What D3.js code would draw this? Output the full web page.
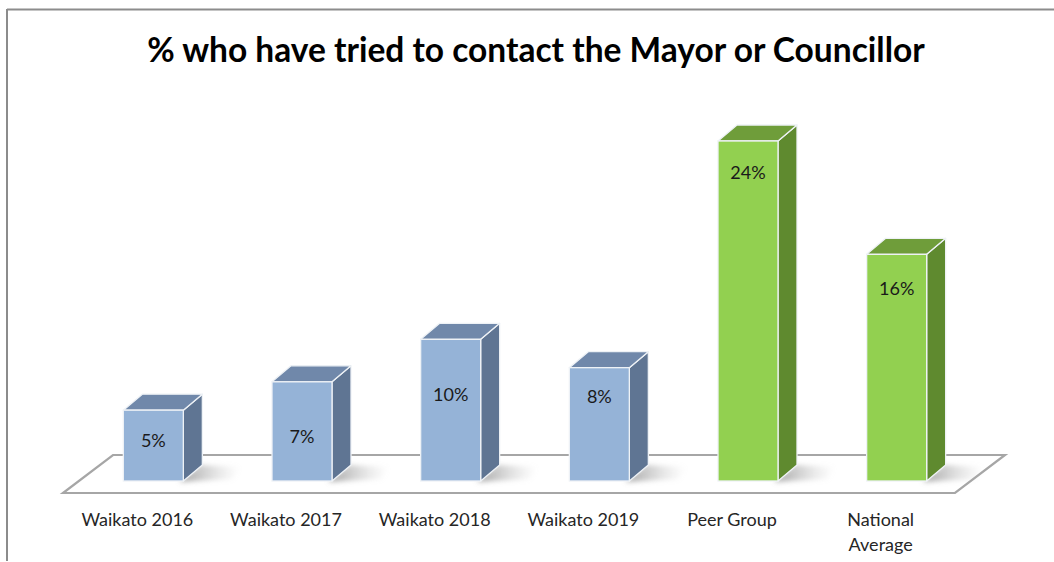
<!DOCTYPE html>
<html>
<head>
<meta charset="utf-8">
<script src="https://cdn.jsdelivr.net/npm/d3@7"></script>
<style>
  html, body { margin: 0; padding: 0; background: #fff; }
  svg { display: block; }
  text { font-family: Lato, "Open Sans", sans-serif; }
</style>
</head>
<body>
<svg id="chart" width="1054" height="562"></svg>
<script>
// Survey results: share of respondents who tried to contact the Mayor or a Councillor
const categories = ["Waikato 2016", "Waikato 2017", "Waikato 2018", "Waikato 2019", "Peer Group", "National Average"];
const values = [5, 7, 10, 8, 24, 16];
const groups = ["waikato", "waikato", "waikato", "waikato", "benchmark", "benchmark"];
const valueLabels = ["5%", "7%", "10%", "8%", "24%", "16%"];
const title = "% who have tried to contact the Mayor or Councillor";

const W = 1054, H = 562;
const svg = d3.select("#chart");

// Face colours for each group: front, side, top
const palette = {
  waikato:   { front: "#95b3d7", side: "#5f7593", top: "#7088aa" },
  benchmark: { front: "#92d050", side: "#5f8a2f", top: "#6f9d3a" }
};

// Outer frame (top and left edges)
svg.append("line").attr("x1", 7).attr("y1", 9.5).attr("x2", W).attr("y2", 9.5)
  .attr("stroke", "#8c8c8c").attr("stroke-width", 2);
svg.append("line").attr("x1", 7).attr("y1", 9).attr("x2", 7).attr("y2", 561)
  .attr("stroke", "#8c8c8c").attr("stroke-width", 2);

// Title
svg.append("text")
  .attr("x", 536).attr("y", 62)
  .attr("text-anchor", "middle")
  .attr("font-weight", "bold")
  .attr("font-size", 33.5)
  .attr("fill", "#000")
  .text(title);

// Floor plane in oblique projection
const floorFront = 493, floorLeft = 63, floorRight = 955;
const floorDepth = { dx: 50, dy: -38 };

const x = d3.scaleBand().domain(categories).range([floorLeft, floorRight]);
const barBase = 481;
const y = d3.scaleLinear().domain([0, 24]).range([barBase, 141]);

const barW = 60;
const barShift = 16;          // front face offset into the floor
const depth = { dx: 19, dy: -16 };

const floorPts = [
  [floorLeft, floorFront],
  [floorRight, floorFront],
  [floorRight + floorDepth.dx, floorFront + floorDepth.dy],
  [floorLeft + floorDepth.dx, floorFront + floorDepth.dy]
];
svg.append("polygon")
  .attr("points", floorPts.map(p => p.join(",")).join(" "))
  .attr("fill", "#fff")
  .attr("stroke", "#a6a6a6")
  .attr("stroke-width", 2.2)
  .attr("stroke-linejoin", "miter");

// Soft shadow cast by each column onto the floor
const defs = svg.append("defs");
const grad = defs.append("linearGradient").attr("id", "shadowGrad")
  .attr("x1", 0).attr("y1", 0).attr("x2", 1).attr("y2", 0);
grad.append("stop").attr("offset", "0%").attr("stop-color", "#7f7f7f").attr("stop-opacity", 0.75);
grad.append("stop").attr("offset", "100%").attr("stop-color", "#bfbfbf").attr("stop-opacity", 0);
defs.append("filter").attr("id", "shadowBlur")
  .attr("x", "-20%").attr("y", "-50%").attr("width", "140%").attr("height", "200%")
  .append("feGaussianBlur").attr("stdDeviation", 2.5);

const data = categories.map((c, i) => ({
  cat: c, value: values[i], group: groups[i], label: valueLabels[i]
}));

const cols = svg.append("g").selectAll("g").data(data).join("g");

cols.each(function(d) {
  const g = d3.select(this);
  const cx = x(d.cat) + x.bandwidth() / 2 + barShift;
  const x0 = cx - barW / 2, x1 = cx + barW / 2;
  const yt = y(d.value), yb = y(0);
  const col = palette[d.group];

  // shadow
  g.append("polygon")
    .attr("points", [
      [x1 - 4, yb + 1], [x1 + depth.dx + 30, yb - 2],
      [x1 + depth.dx + 38, yb + depth.dy + 2], [x1 + depth.dx - 2, yb + depth.dy]
    ].map(p => p.join(",")).join(" "))
    .attr("fill", "url(#shadowGrad)")
    .attr("filter", "url(#shadowBlur)");

  const edge = "#eef2f6", edgeW = 1.3;

  // side face
  g.append("polygon")
    .attr("points", [[x1, yt], [x1 + depth.dx, yt + depth.dy], [x1 + depth.dx, yb + depth.dy], [x1, yb]]
      .map(p => p.join(",")).join(" "))
    .attr("fill", col.side)
    .attr("stroke", edge).attr("stroke-width", edgeW)
    .attr("stroke-linejoin", "round");

  // top face
  g.append("polygon")
    .attr("points", [[x0, yt], [x1, yt], [x1 + depth.dx, yt + depth.dy], [x0 + depth.dx, yt + depth.dy]]
      .map(p => p.join(",")).join(" "))
    .attr("fill", col.top)
    .attr("stroke", edge).attr("stroke-width", edgeW)
    .attr("stroke-linejoin", "round");

  // front face
  g.append("rect")
    .attr("x", x0).attr("y", yt)
    .attr("width", barW).attr("height", yb - yt)
    .attr("fill", col.front)
    .attr("stroke", edge).attr("stroke-width", edgeW);
});

// Value labels inside the columns
const labelDrop = { "Waikato 2016": 31, "Waikato 2017": 55, "Waikato 2018": 56, "Waikato 2019": 29, "Peer Group": 32, "National Average": 35 };
cols.append("text")
  .attr("x", d => x(d.cat) + x.bandwidth() / 2 + barShift)
  .attr("y", d => y(d.value) + labelDrop[d.cat] + 6)
  .attr("text-anchor", "middle")
  .attr("font-size", 18)
  .attr("fill", "#1a1a1a")
  .text(d => d.label);

// Category axis labels along the front edge of the floor
const axis = d3.axisBottom(x).tickSize(0).tickPadding(0);
const axisG = svg.append("g").attr("transform", `translate(0, ${floorFront})`).call(axis);
axisG.select(".domain").remove();
axisG.attr("font-size", null).attr("font-family", null);
axisG.selectAll(".tick text")
  .attr("font-size", 18)
  .attr("fill", "#262626")
  .attr("dy", null)
  .attr("y", 0)
  .each(function(d) {
    const t = d3.select(this);
    t.text(null);
    const lines = d === "National Average" ? d.split(" ") : [d];
    lines.forEach((w, i) => t.append("tspan").attr("x", 0).attr("y", 33 + i * 25).text(w));
  });
</script>
</body>
</html>
